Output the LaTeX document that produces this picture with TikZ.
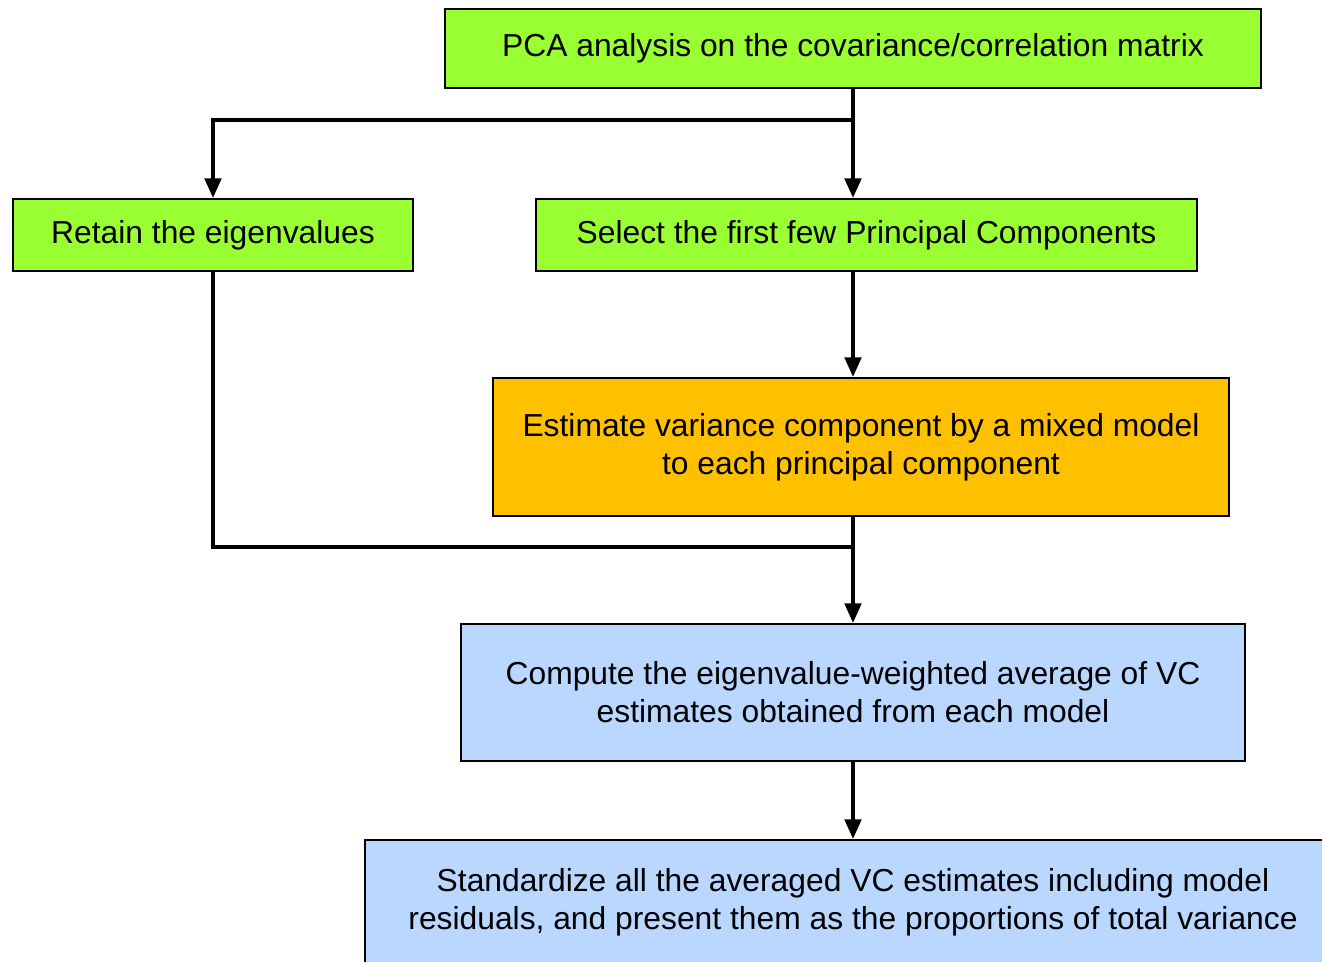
\documentclass[tikz,border=0pt]{standalone}
\usepackage{fontspec}
\setmainfont{Liberation Sans}
\usetikzlibrary{arrows.meta}
\definecolor{boxgreen}{HTML}{99FF33}
\definecolor{boxorange}{HTML}{FFC000}
\definecolor{boxblue}{HTML}{B9D7FF}

\begin{document}
\begin{tikzpicture}[x=0.02cm,y=-0.02cm,
	box/.style={draw=black,line width=0.8pt,align=center,inner sep=0pt,
		font=\fontsize{18.1}{21.6}\selectfont},
	line/.style={line width=2.7pt},
	flow/.style={line width=2.7pt,-{Triangle[width=0.32cm,length=0.4cm]}}]
	\useasboundingbox (0,0) rectangle (1322,961);
	\clip (0,0) rectangle (1322,961);
	\node[box,fill=boxgreen,minimum width=16.32cm,minimum height=1.58cm] (pca) at (853,48.5) {PCA analysis on the covariance/correlation matrix};
	\node[box,fill=boxgreen,minimum width=8cm,minimum height=1.44cm] (retain) at (213,235) {Retain the eigenvalues};
	\node[box,fill=boxgreen,minimum width=13.22cm,minimum height=1.44cm] (select) at (866.5,235) {Select the first few Principal Components};
	\node[box,fill=boxorange,minimum width=14.72cm,minimum height=2.76cm] (estimate) at (861,447) {Estimate variance component by a mixed model\\to each principal component};
	\node[box,fill=boxblue,minimum width=15.68cm,minimum height=2.74cm] (compute) at (853,692.5) {Compute the eigenvalue-weighted average of VC\\estimates obtained from each model};
	\node[box,fill=boxblue,minimum width=19.52cm,minimum height=2.48cm] (standardize) at (853,902) {Standardize all the averaged VC estimates including model\\residuals, and present them as the proportions of total variance};
	\coordinate (split) at (853,120);
	\coordinate (join) at (853,547);
	%\coordinate (mid) at (853,300);
	\draw[flow] (split |- pca.south) -- (split |- select.north);
	\draw[flow] (split) -| (retain.north);
	\draw[flow] (split |- select.south) -- (split |- estimate.north);
	\draw[line] (retain.south) |- (join);
	\draw[flow] (join |- estimate.south) -- (join |- compute.north);
	\draw[flow] (compute.south) -- (standardize.north);
\end{tikzpicture}
\end{document}
